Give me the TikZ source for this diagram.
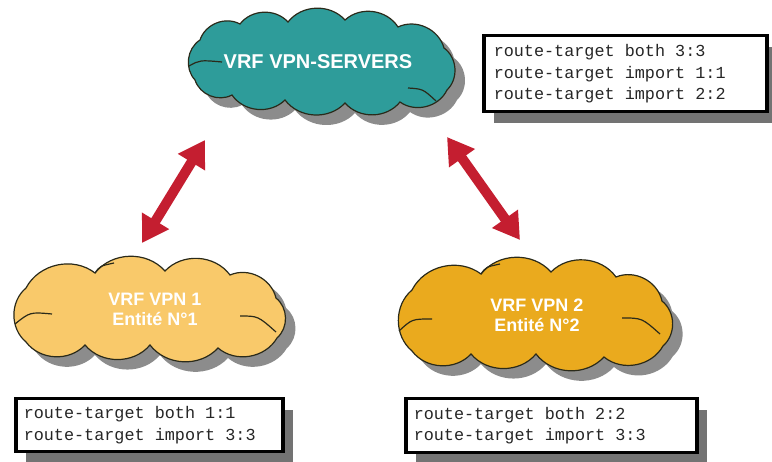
\documentclass[tikz,border=0pt]{standalone}
\usepackage{fontspec}
\setmainfont{Liberation Sans}
\newfontfamily\cfgfont{Liberation Mono}
\newcommand\msp{\hspace*{0.6em}}
\usetikzlibrary{shadows,arrows.meta}
\definecolor{tealc}{HTML}{2E9C9A}
\definecolor{orangeA}{HTML}{F9C96A}
\definecolor{orangeB}{HTML}{EAAA1E}
\definecolor{redA}{HTML}{C41E30}
\definecolor{shadeg}{HTML}{8C8C8C}
\definecolor{outl}{HTML}{2A2A1A}
\begin{document}
\begin{tikzpicture}[x=1pt,y=-1pt,
  cloudpath/.style={draw=outl, line width=1.2pt,
    drop shadow={shadow xshift=10pt, shadow yshift=-10pt, fill=shadeg, opacity=1}},
  pf/.style={bend left=50},
  innerc/.style={draw=outl, line width=1.2pt},
  cloudtext/.style={text=white, align=center, inner sep=0pt, font=\bfseries\fontsize{18}{20}\selectfont},
  cfgbox/.style={draw=black, line width=3.5pt, fill=white, anchor=north west,
    align=left, text=black!85, font=\cfgfont\fontsize{16.8}{21.5}\selectfont,
    drop shadow={shadow xshift=10pt, shadow yshift=-11pt, fill=gray!90!black, opacity=1}},
  biarrow/.style={draw=redA, line width=10pt,
    {Triangle[width=30pt,length=26pt]}-{Triangle[width=30pt,length=26pt]}}
]
\useasboundingbox (0,0) rectangle (772,462);

% top cloud
\path[cloudpath, fill=tealc] (200,40) to[pf] (240,24) to[pf] (288,22) to[pf] (345,20)
  to[pf] (398,27) to[pf] (444,48) to[pf] (447,90) to[pf] (400,102) to[pf] (345,103)
  to[pf] (285,100) to[pf] (232,95) to[pf] (195,80) to[pf] (200,40) -- cycle;
\draw[innerc] (189,66) .. controls (200,60) .. (222,62);
\draw[innerc] (408,88) .. controls (423,89) .. (436,101);
\node[cloudtext, font=\bfseries\fontsize{20}{24}\selectfont] (srv) at (318,62) {VRF VPN-SERVERS};

% bottom-left cloud
\path[cloudpath, fill=orangeA] (26,288) to[pf] (95,273) to[pf] (165,271) to[pf] (230,275)
  to[pf] (276,298) to[pf] (277,338) to[pf] (218,348) to[pf] (150,345) to[pf] (85,345)
  to[pf] (26,342) to[pf] (26,288) -- cycle;
\draw[innerc] (15,324) .. controls (30,312) .. (52,314);
\draw[innerc] (240,316) .. controls (258,316) .. (276,332);
\draw[innerc] (95,273) .. controls (100,266) .. (114,263);
\node[cloudtext] (vpn1) at (155,309) {VRF VPN 1\\Entité N°1};

% bottom-right cloud
\path[cloudpath, fill=orangeB] (412,290) to[pf] (481,274) to[pf] (551,272) to[pf] (616,277)
  to[pf] (662,301) to[pf] (663,346) to[pf] (604,357) to[pf] (536,354) to[pf] (471,354)
  to[pf] (412,351) to[pf] (412,290) -- cycle;
\draw[innerc] (399,331) .. controls (412,319) .. (432,319);
\draw[innerc] (622,318) .. controls (642,318) .. (660,334);
\draw[innerc] (481,274) .. controls (486,267) .. (500,264);
\node[cloudtext] (vpn2) at (537,315) {VRF VPN 2\\Entité N°2};

% config boxes
\node[cfgbox, minimum width=283pt, minimum height=76pt, text width=263pt, inner xsep=10pt] (cfgsrv) at (482,34)
  {route-target\msp both\msp 3:3\\route-target\msp import\msp 1:1\\route-target\msp import\msp 2:2};
\node[cfgbox, minimum width=267pt, minimum height=53pt, text width=251pt, inner xsep=8pt] (cfg1) at (14,397)
  {route-target\msp both\msp 1:1\\route-target\msp import\msp 3:3};
\node[cfgbox, minimum width=291pt, minimum height=54pt, text width=275pt, inner xsep=8pt] (cfg2) at (404,397)
  {route-target\msp both\msp 2:2\\route-target\msp import\msp 3:3};

% arrows
\coordinate (a1s) at (142,243);
\coordinate (a1e) at (205,140);
\coordinate (a2s) at (447,137);
\coordinate (a2e) at (520,240);
\draw[biarrow] (a1s) -- (a1e);
\draw[biarrow] (a2s) -- (a2e);
\end{tikzpicture}
\end{document}
